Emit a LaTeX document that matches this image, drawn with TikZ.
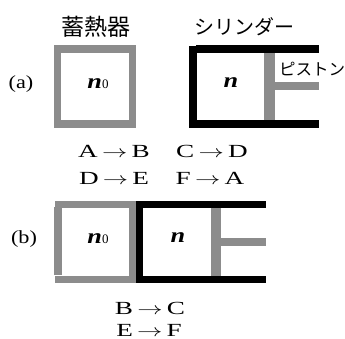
\documentclass[tikz,border=0pt]{standalone}
\usepackage{fontspec}
\usepackage{graphicx}
\setmainfont{Liberation Serif}
\newfontfamily\cjk{Noto Sans CJK JP}
\definecolor{wallgray}{RGB}{140,140,140}
\tikzset{
  gw/.style={fill=wallgray,draw=none},
  bw/.style={fill=black,draw=none},
  lab/.style={inner sep=0pt,anchor=center,font=\fontsize{18.5bp}{18.5bp}\selectfont},
  vr/.style={inner sep=0pt,anchor=center,font=\fontsize{21bp}{21bp}\selectfont\itshape\bfseries},
  jp/.style={inner sep=0pt,anchor=center,font=\cjk\fontsize{20bp}{20bp}\selectfont},
}
\newcommand{\sfz}{{\fontsize{13bp}{13bp}\selectfont\upshape\mdseries 0}}
\newcommand{\wide}[1]{\scalebox{1.47}[1]{#1}}
\newcommand{\trans}[2]{\wide{#1$\,\rightarrow\,$#2}}
\begin{document}
\begin{tikzpicture}[x=1bp,y=-1bp]
\useasboundingbox (0,0) rectangle (345,339);
% (a) regenerator
\fill[gw] (54,45) rectangle (136,53);
\fill[gw] (54,45) rectangle (61,128);
\fill[gw] (129,45) rectangle (136,128);
\fill[gw] (54,120) rectangle (136,128);
% (a) cylinder
\fill[bw] (189,46) rectangle (197,128);
\fill[bw] (196,45) rectangle (319,53);
\fill[bw] (189,120) rectangle (319,128);
\fill[gw] (264,53) rectangle (275,120);
\fill[gw] (274,82) rectangle (319,90);
% (b) regenerator
\fill[gw] (55,201) rectangle (136,208);
\fill[gw] (54,207) rectangle (62,275);
\fill[gw] (129,201) rectangle (136,283);
\fill[gw] (55,276) rectangle (136,283);
% (b) cylinder
\fill[bw] (136,201) rectangle (266,208);
\fill[bw] (136,201) rectangle (143,283);
\fill[bw] (136,276) rectangle (266,283);
\fill[gw] (211,208) rectangle (221,276);
\fill[gw] (221,238) rectangle (266,246);
% labels
\node[jp,font=\cjk\fontsize{23bp}{23bp}\selectfont] (reg) at (96,27) {蓄熱器};
\node[jp] (cyl) at (244,27) {シリンダー};
\node[jp,font=\cjk\fontsize{16.5bp}{16.5bp}\selectfont] (pis) at (312,69) {ピストン};
\node[lab] (a) at (21,84) {\scalebox{1.2}[1]{(a)}};
\node[lab] (b) at (24,239) {\scalebox{1.2}[1]{(b)}};
\node[vr] (n0a) at (98,84) {\scalebox{1.25}[1]{n}\sfz};
\node[vr] (na) at (231,83) {\scalebox{1.25}[1]{n}};
\node[vr] (n0b) at (98,239) {\scalebox{1.25}[1]{n}\sfz};
\node[vr] (nb) at (178,238) {\scalebox{1.25}[1]{n}};
\node[lab] (ab) at (114,151) {\trans{A}{B}};
\node[lab] (cd) at (212,151) {\trans{C}{D}};
\node[lab] (de) at (114,178) {\trans{D}{E}};
\node[lab] (fa) at (210,178) {\trans{F}{A}};
\node[lab] (bc) at (150,308) {\trans{B}{C}};
\node[lab] (ef) at (149,330) {\trans{E}{F}};
\end{tikzpicture}
\end{document}
